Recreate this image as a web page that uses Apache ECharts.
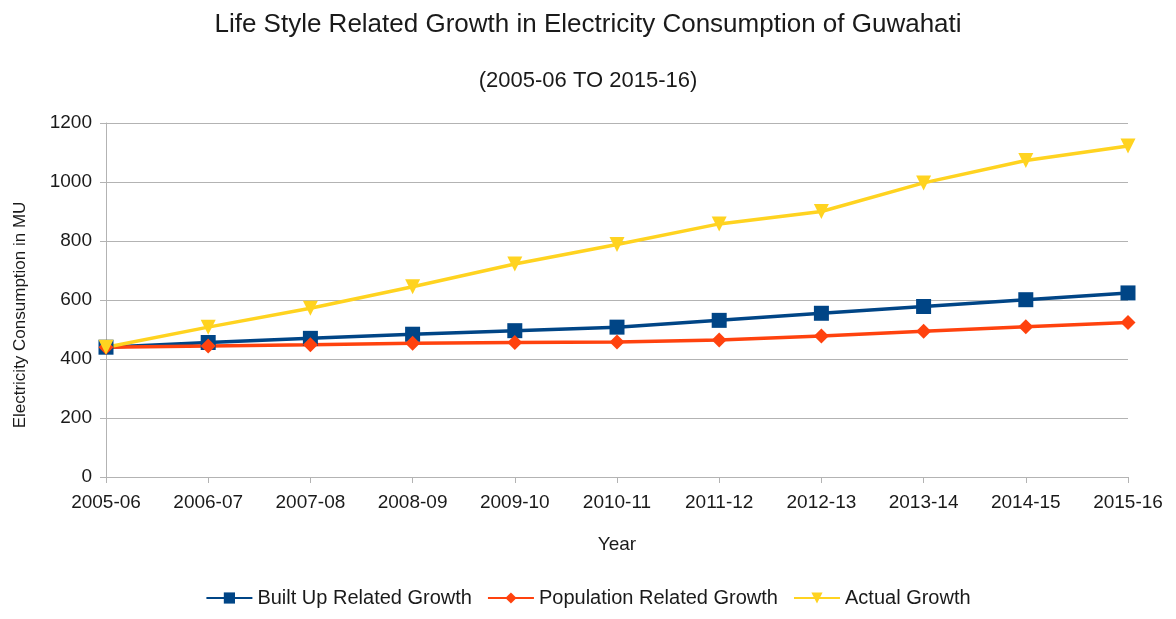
<!DOCTYPE html>
<html>
<head>
<meta charset="utf-8">
<script src="https://cdn.jsdelivr.net/npm/echarts@6/dist/echarts.min.js"></script>
<style>
html, body { margin: 0; padding: 0; background: #fff; }
#chart { width: 1176px; height: 619px; }
</style>
</head>
<body>
<div id="chart"></div>
<script>
// Fiscal years on the category axis
const years = ['2005-06', '2006-07', '2007-08', '2008-09', '2009-10', '2010-11',
               '2011-12', '2012-13', '2013-14', '2014-15', '2015-16'];

// Electricity consumption in MU
const builtUpGrowth    = [440, 456, 470, 484, 496, 508, 531, 555, 578, 601, 624];
const populationGrowth = [440, 444, 448, 453, 456, 458, 464, 478, 494, 509, 524];
const actualGrowth     = [440, 508, 572, 645, 722, 788, 858, 900, 997, 1073, 1122];

// Value axis ticks
const yTicks = [0, 200, 400, 600, 800, 1000, 1200];

const FONT = '"Liberation Sans", Arial, sans-serif';
const TEXT = '#1a1a1a';
const AXIS = '#b3b3b3';

const chart = echarts.init(document.getElementById('chart'));

function lineSeries(name, data, color, symbol, size, rotate) {
  return {
    name: name,
    type: 'line',
    data: data,
    symbol: symbol,
    symbolSize: size,
    symbolRotate: rotate || 0,
    showAllSymbol: true,
    lineStyle: { color: color, width: 3.5 },
    itemStyle: { color: color },
    emphasis: { disabled: true },
    z: 3
  };
}

chart.setOption({
  animation: false,
  backgroundColor: '#fff',
  textStyle: { fontFamily: FONT },
  title: [
    {
      text: 'Life Style Related Growth in Electricity Consumption of Guwahati',
      left: 'center', top: 7,
      textStyle: { fontFamily: FONT, fontSize: 26, fontWeight: 'normal', color: TEXT }
    },
    {
      text: '(2005-06 TO 2015-16)',
      left: 'center', top: 65,
      textStyle: { fontFamily: FONT, fontSize: 22, fontWeight: 'normal', color: TEXT }
    }
  ],
  legend: {
    bottom: 6,
    left: 'center',
    itemWidth: 46,
    itemHeight: 14,
    itemGap: 15,
    textStyle: { fontFamily: FONT, fontSize: 20, color: TEXT },
    data: ['Built Up Related Growth', 'Population Related Growth', 'Actual Growth']
  },
  grid: { left: 106, right: 48, top: 123, bottom: 142, outerBoundsMode: 'none', containLabel: false },
  xAxis: {
    type: 'category',
    data: years,
    boundaryGap: false,
    name: 'Year',
    nameLocation: 'middle',
    nameGap: 58,
    nameTextStyle: { fontFamily: FONT, fontSize: 19, color: TEXT },
    axisLine: { lineStyle: { color: AXIS, width: 1 } },
    axisTick: { show: true, alignWithLabel: true, length: 6, lineStyle: { color: AXIS } },
    axisLabel: { fontFamily: FONT, fontSize: 19, color: TEXT, margin: 16, interval: 0 },
    splitLine: { show: false }
  },
  yAxis: {
    type: 'value',
    min: yTicks[0],
    max: yTicks[yTicks.length - 1],
    interval: yTicks[1] - yTicks[0],
    name: 'Electricity Consumption in MU',
    nameLocation: 'middle',
    nameGap: 77,
    nameTextStyle: { fontFamily: FONT, fontSize: 17, color: TEXT, padding: [0, 30, 0, 0] },
    axisLine: { show: true, lineStyle: { color: AXIS, width: 1 } },
    axisTick: { show: true, length: 6, lineStyle: { color: AXIS } },
    axisLabel: { fontFamily: FONT, fontSize: 19, color: TEXT, margin: 14, formatter: v => String(v) },
    splitLine: { show: true, lineStyle: { color: AXIS, width: 1 } }
  },
  series: [
    lineSeries('Built Up Related Growth', builtUpGrowth, '#004586', 'rect', 15),
    lineSeries('Population Related Growth', populationGrowth, '#ff420e', 'diamond', 15),
    lineSeries('Actual Growth', actualGrowth, '#ffd320', 'triangle', 15, 180)
  ]
});
</script>
</body>
</html>
